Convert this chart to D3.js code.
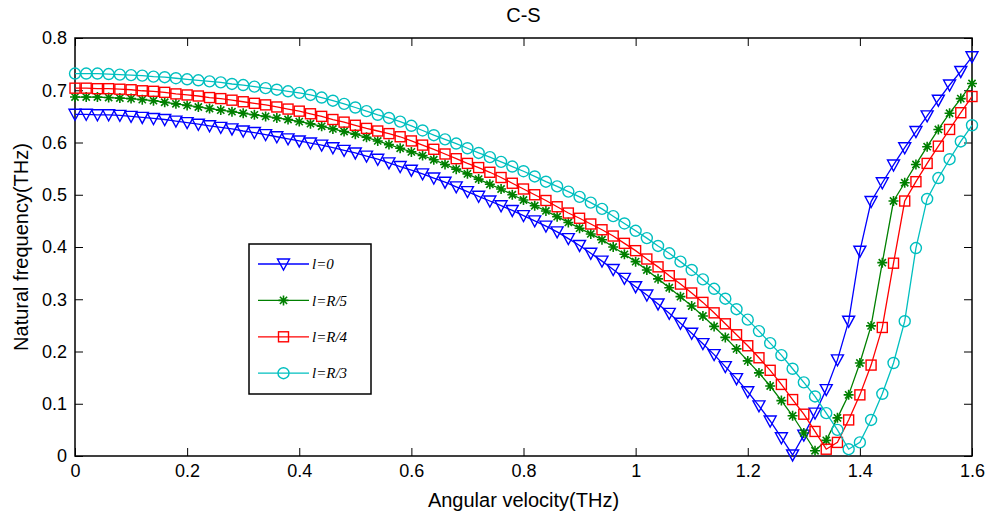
<!DOCTYPE html>
<html>
<head>
<meta charset="utf-8">
<script src="https://cdn.jsdelivr.net/npm/d3@7"></script>
<style>
  body { margin: 0; background: #fff; }
  svg { display: block; }
</style>
</head>
<body>
<div id="chart"></div>
<script>
// angular velocity (THz), one sample every 0.02
const omega = [
  0.00, 0.02, 0.04, 0.06, 0.08, 0.10, 0.12, 0.14, 0.16, 0.18,
  0.20, 0.22, 0.24, 0.26, 0.28, 0.30, 0.32, 0.34, 0.36, 0.38,
  0.40, 0.42, 0.44, 0.46, 0.48, 0.50, 0.52, 0.54, 0.56, 0.58,
  0.60, 0.62, 0.64, 0.66, 0.68, 0.70, 0.72, 0.74, 0.76, 0.78,
  0.80, 0.82, 0.84, 0.86, 0.88, 0.90, 0.92, 0.94, 0.96, 0.98,
  1.00, 1.02, 1.04, 1.06, 1.08, 1.10, 1.12, 1.14, 1.16, 1.18,
  1.20, 1.22, 1.24, 1.26, 1.28, 1.30, 1.32, 1.34, 1.36, 1.38,
  1.40, 1.42, 1.44, 1.46, 1.48, 1.50, 1.52, 1.54, 1.56, 1.58,
  1.60
];

// natural frequency (THz)
const freqL0 = [
  0.654, 0.654, 0.653, 0.653, 0.652, 0.650, 0.648, 0.646, 0.644, 0.641,
  0.638, 0.635, 0.632, 0.629, 0.626, 0.622, 0.619, 0.615, 0.611, 0.607,
  0.603, 0.599, 0.595, 0.590, 0.585, 0.580, 0.574, 0.568, 0.561, 0.554,
  0.547, 0.540, 0.532, 0.524, 0.515, 0.506, 0.497, 0.488, 0.479, 0.470,
  0.460, 0.450, 0.440, 0.429, 0.416, 0.403, 0.388, 0.373, 0.357, 0.340,
  0.324, 0.308, 0.291, 0.273, 0.254, 0.235, 0.215, 0.194, 0.171, 0.148,
  0.123, 0.096, 0.067, 0.035, 0.002, 0.040, 0.082, 0.127, 0.184, 0.258,
  0.392, 0.487, 0.523, 0.557, 0.590, 0.621, 0.651, 0.681, 0.710, 0.736,
  0.764
];
const freqR5 = [
  0.687, 0.687, 0.687, 0.686, 0.685, 0.684, 0.682, 0.680, 0.677, 0.674,
  0.671, 0.668, 0.665, 0.662, 0.659, 0.656, 0.653, 0.650, 0.647, 0.644,
  0.640, 0.636, 0.631, 0.626, 0.621, 0.616, 0.610, 0.603, 0.596, 0.589,
  0.582, 0.575, 0.567, 0.558, 0.549, 0.540, 0.530, 0.520, 0.511, 0.500,
  0.490, 0.479, 0.469, 0.458, 0.447, 0.436, 0.425, 0.414, 0.400, 0.386,
  0.372, 0.356, 0.339, 0.322, 0.305, 0.287, 0.268, 0.248, 0.227, 0.205,
  0.182, 0.159, 0.134, 0.106, 0.077, 0.044, 0.010, 0.030, 0.073, 0.117,
  0.178, 0.249, 0.370, 0.488, 0.523, 0.558, 0.592, 0.625, 0.656, 0.684,
  0.713
];
const freqR4 = [
  0.704, 0.704, 0.703, 0.703, 0.702, 0.701, 0.699, 0.698, 0.696, 0.693,
  0.691, 0.689, 0.686, 0.684, 0.681, 0.678, 0.675, 0.672, 0.668, 0.664,
  0.660, 0.655, 0.650, 0.644, 0.639, 0.633, 0.627, 0.622, 0.617, 0.611,
  0.603, 0.595, 0.587, 0.578, 0.569, 0.560, 0.552, 0.543, 0.533, 0.522,
  0.511, 0.500, 0.489, 0.477, 0.465, 0.455, 0.444, 0.433, 0.421, 0.407,
  0.393, 0.377, 0.362, 0.345, 0.329, 0.312, 0.294, 0.274, 0.253, 0.232,
  0.211, 0.188, 0.164, 0.137, 0.108, 0.080, 0.047, 0.013, 0.026, 0.069,
  0.117, 0.174, 0.246, 0.369, 0.488, 0.525, 0.560, 0.593, 0.625, 0.657,
  0.688
];
const freqR3 = [
  0.732, 0.732, 0.732, 0.731, 0.730, 0.729, 0.728, 0.726, 0.725, 0.723,
  0.721, 0.719, 0.717, 0.715, 0.712, 0.710, 0.707, 0.704, 0.701, 0.698,
  0.695, 0.691, 0.686, 0.680, 0.674, 0.667, 0.660, 0.653, 0.647, 0.640,
  0.632, 0.623, 0.614, 0.606, 0.598, 0.589, 0.580, 0.572, 0.563, 0.554,
  0.545, 0.535, 0.525, 0.516, 0.506, 0.496, 0.485, 0.473, 0.459, 0.445,
  0.431, 0.417, 0.402, 0.388, 0.372, 0.356, 0.338, 0.320, 0.301, 0.281,
  0.261, 0.239, 0.216, 0.193, 0.167, 0.141, 0.114, 0.082, 0.050, 0.013,
  0.026, 0.069, 0.119, 0.178, 0.258, 0.398, 0.492, 0.532, 0.568, 0.602,
  0.633
];

const seriesNames = ["l=0", "l=R/5", "l=R/4", "l=R/3"];
const seriesColors = ["#0000ff", "#008000", "#ff0000", "#00bfbf"];
const seriesMarkers = ["triangle", "star", "square", "circle"];

const xTicks = [0, 0.2, 0.4, 0.6, 0.8, 1, 1.2, 1.4, 1.6];
const yTicks = [0, 0.1, 0.2, 0.3, 0.4, 0.5, 0.6, 0.7, 0.8];

const width = 985, height = 520;
const margin = { top: 38, right: 13, bottom: 64, left: 75 };
const innerW = width - margin.left - margin.right;
const innerH = height - margin.top - margin.bottom;

const svg = d3.select("#chart").append("svg")
  .attr("width", width)
  .attr("height", height)
  .style("font-family", "'Liberation Sans', Arial, sans-serif");

const x = d3.scaleLinear().domain([0, 1.6]).range([margin.left, margin.left + innerW]);
const y = d3.scaleLinear().domain([0, 0.8]).range([margin.top + innerH, margin.top]);

const tickFmt = d => d3.format("~g")(d);

// axes with inward ticks, on all four sides (matlab box)
svg.append("g")
  .attr("transform", `translate(0,${margin.top + innerH})`)
  .call(d3.axisBottom(x).tickValues(xTicks).tickFormat(tickFmt).tickSizeInner(-8).tickSizeOuter(0))
  .call(g => g.selectAll("text").attr("font-size", 18).attr("fill", "#000").attr("y", 21).attr("dy", 0));
svg.append("g")
  .attr("transform", `translate(0,${margin.top})`)
  .call(d3.axisTop(x).tickValues(xTicks).tickFormat("").tickSizeInner(-8).tickSizeOuter(0));
svg.append("g")
  .attr("transform", `translate(${margin.left},0)`)
  .call(d3.axisLeft(y).tickValues(yTicks).tickFormat(tickFmt).tickSizeInner(-8).tickSizeOuter(0).tickPadding(8))
  .call(g => g.selectAll("text").attr("font-size", 18).attr("fill", "#000"));
svg.append("g")
  .attr("transform", `translate(${margin.left + innerW},0)`)
  .call(d3.axisRight(y).tickValues(yTicks).tickFormat("").tickSizeInner(-8).tickSizeOuter(0));

svg.selectAll(".domain").remove();
svg.selectAll(".tick line").attr("stroke", "#000").attr("stroke-width", 1);

svg.append("rect")
  .attr("x", margin.left).attr("y", margin.top)
  .attr("width", innerW).attr("height", innerH)
  .attr("fill", "none").attr("stroke", "#000").attr("stroke-width", 1.5);

// labels
svg.append("text")
  .attr("x", margin.left + innerW / 2).attr("y", 22)
  .attr("text-anchor", "middle").attr("font-size", 20)
  .text("C-S");
svg.append("text")
  .attr("x", margin.left + innerW / 2).attr("y", 507)
  .attr("text-anchor", "middle").attr("font-size", 20)
  .text("Angular velocity(THz)");
svg.append("text")
  .attr("transform", `translate(28,${margin.top + innerH / 2}) rotate(-90)`)
  .attr("text-anchor", "middle").attr("font-size", 20)
  .text("Natural frequency(THz)");

// marker drawing
function drawMarker(g, type, color) {
  if (type === "triangle") {
    g.append("path").attr("d", "M-6,-5L6,-5L0,6Z")
      .attr("fill", "none").attr("stroke", color).attr("stroke-width", 1.4);
  } else if (type === "square") {
    g.append("rect").attr("x", -5).attr("y", -5).attr("width", 10).attr("height", 10)
      .attr("fill", "none").attr("stroke", color).attr("stroke-width", 1.4);
  } else if (type === "circle") {
    g.append("circle").attr("r", 5.5)
      .attr("fill", "none").attr("stroke", color).attr("stroke-width", 1.4);
  } else {
    g.append("path").attr("d", "M0,-5L0,5M-5,0L5,0M-3.6,-3.6L3.6,3.6M-3.6,3.6L3.6,-3.6")
      .attr("fill", "none").attr("stroke", color).attr("stroke-width", 1.6);
  }
}

const allSeries = [freqL0, freqR5, freqR4, freqR3];

const line = d3.line()
  .x((d, i) => x(omega[i]))
  .y(d => y(d));

allSeries.forEach((vals, s) => {
  const gs = svg.append("g");
  gs.append("path")
    .attr("d", line(vals))
    .attr("fill", "none")
    .attr("stroke", seriesColors[s])
    .attr("stroke-width", 1.3);
  gs.selectAll("g.m")
    .data(vals)
    .enter().append("g")
    .attr("class", "m")
    .attr("transform", (d, i) => `translate(${x(omega[i])},${y(d)})`)
    .each(function () { drawMarker(d3.select(this), seriesMarkers[s], seriesColors[s]); });
});

// legend
const legend = svg.append("g").attr("transform", "translate(249,244)");
legend.append("rect")
  .attr("width", 122).attr("height", 150)
  .attr("fill", "#fff").attr("stroke", "#000").attr("stroke-width", 1.5);

seriesNames.forEach((name, i) => {
  const row = legend.append("g").attr("transform", `translate(0,${20 + i * 36.4})`);
  row.append("line").attr("x1", 9).attr("x2", 60).attr("y1", 0).attr("y2", 0)
    .attr("stroke", seriesColors[i]).attr("stroke-width", 1.3);
  const mk = row.append("g").attr("transform", "translate(34.5,0)");
  drawMarker(mk, seriesMarkers[i], seriesColors[i]);
  row.append("text")
    .attr("x", 63).attr("y", 0).attr("dy", "0.35em")
    .attr("font-family", "'Liberation Serif', 'Times New Roman', serif")
    .attr("font-style", "italic").attr("font-size", 15)
    .text(name);
});
</script>
</body>
</html>
